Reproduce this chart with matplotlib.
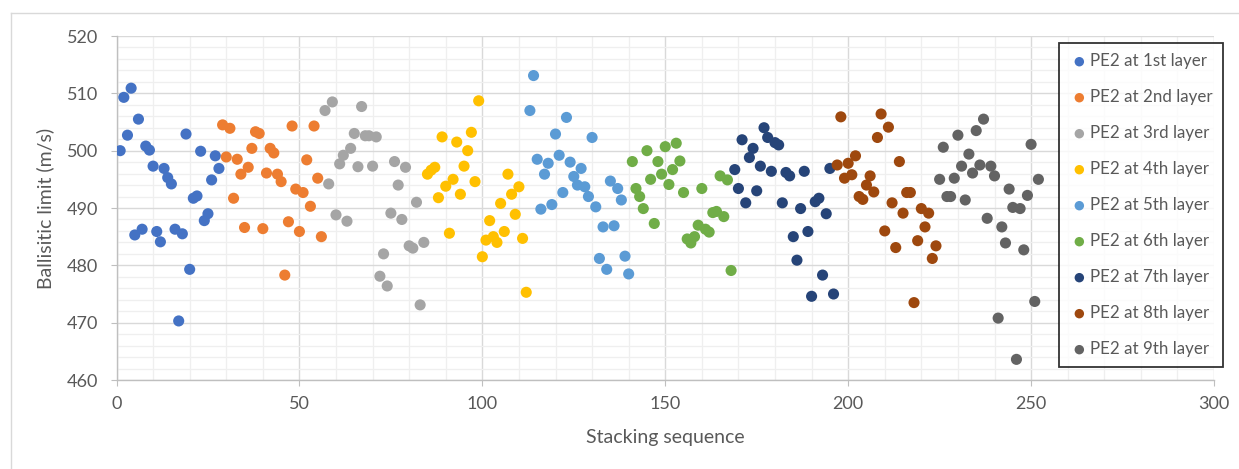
import numpy as np
import matplotlib
matplotlib.use("Agg")
import matplotlib.pyplot as plt
from matplotlib.ticker import MultipleLocator
from matplotlib.lines import Line2D

plt.rcParams['font.family'] = ['Lato', 'DejaVu Sans']

# ballistic limit (m/s), 28 shots per layer position
layer1 = [500.0, 509.3, 502.7, 510.9, 485.3, 505.5, 486.3, 500.8, 500.1, 497.3, 485.9, 484.1, 496.9, 495.3,
          494.2, 486.3, 470.3, 485.5, 502.9, 479.3, 491.7, 492.1, 499.9, 487.8, 489.0, 494.9, 499.1, 496.9]
layer2 = [504.5, 498.9, 503.9, 491.7, 498.5, 495.9, 486.6, 497.1, 500.4, 503.3, 503.0, 486.4, 496.1, 500.4,
          499.6, 495.9, 494.6, 478.3, 487.6, 504.3, 493.3, 485.9, 492.7, 498.4, 490.3, 504.3, 495.2, 485.0]
layer3 = [507.0, 494.2, 508.5, 488.8, 497.7, 499.2, 487.7, 500.4, 503.0, 497.2, 507.7, 502.6, 502.6, 497.3,
          502.4, 478.1, 482.0, 476.4, 489.1, 498.1, 494.0, 488.0, 497.1, 483.4, 483.0, 491.0, 473.1, 484.0]
layer4 = [495.9, 496.6, 497.1, 491.8, 502.4, 493.8, 485.6, 495.0, 501.5, 492.4, 497.3, 500.0, 503.2, 494.6,
          508.7, 481.5, 484.4, 487.8, 485.0, 484.0, 490.8, 485.9, 495.9, 492.4, 488.9, 493.7, 484.7, 475.3]
layer5 = [507.0, 513.1, 498.5, 489.8, 495.9, 497.8, 490.6, 502.9, 499.2, 492.7, 505.8, 498.0, 495.5, 494.0,
          496.9, 493.7, 492.0, 502.3, 490.2, 481.2, 486.7, 479.3, 494.7, 486.9, 493.4, 491.4, 481.6, 478.5]
layer6 = [498.1, 493.4, 492.0, 489.9, 500.0, 495.0, 487.3, 498.1, 495.9, 500.7, 494.1, 496.7, 501.3, 498.2,
          492.7, 484.6, 483.9, 485.0, 487.0, 493.4, 486.3, 485.8, 489.2, 489.4, 495.6, 488.5, 494.9, 479.1]
layer7 = [496.7, 493.4, 501.9, 490.9, 498.8, 500.4, 493.0, 497.3, 504.0, 502.3, 496.4, 501.4, 501.0, 490.9,
          496.2, 495.6, 485.0, 480.9, 489.9, 496.4, 485.9, 474.6, 491.1, 491.7, 478.3, 489.0, 496.9, 475.0]
layer8 = [497.5, 505.9, 495.2, 497.8, 495.8, 499.1, 492.0, 491.5, 494.0, 495.6, 492.8, 502.3, 506.4, 486.0,
          504.1, 490.9, 483.1, 498.1, 489.1, 492.7, 492.7, 473.5, 484.3, 489.9, 486.7, 489.1, 481.2, 483.4]
layer9 = [495.0, 500.6, 492.0, 492.0, 495.2, 502.7, 497.3, 491.4, 499.4, 496.1, 503.5, 497.5, 505.5, 488.2,
          497.3, 495.6, 470.8, 486.7, 483.9, 493.3, 490.1, 463.6, 489.9, 482.7, 492.2, 501.1, 473.7, 495.0]

layers = [layer1, layer2, layer3, layer4, layer5, layer6, layer7, layer8, layer9]
labels = ["PE2 at 1st layer", "PE2 at 2nd layer", "PE2 at 3rd layer", "PE2 at 4th layer",
          "PE2 at 5th layer", "PE2 at 6th layer", "PE2 at 7th layer", "PE2 at 8th layer",
          "PE2 at 9th layer"]
colors = ["#4472C4", "#ED7D31", "#A5A5A5", "#FFC000", "#5B9BD5",
          "#70AD47", "#264478", "#9E480E", "#636363"]

# stacking sequence is just the running shot number 1..252
seq = np.arange(1, 1 + sum(len(l) for l in layers))

W, H = 1239, 469
fig = plt.figure(figsize=(W / 100, H / 100), dpi=100)
ax = fig.add_axes([116.5 / W, 1 - 380 / H, (1214 - 116.5) / W, (380 - 36) / H])

# light chart-area border (only left/top edges show in the crop)
fig.add_artist(Line2D([10.5 / W, 10.5 / W], [0, 1 - 13 / H], transform=fig.transFigure,
                      color='#d9d9d9', lw=1))
fig.add_artist(Line2D([10.5 / W, 1], [1 - 13 / H, 1 - 13 / H], transform=fig.transFigure,
                      color='#d9d9d9', lw=1))

start = 0
for vals, lab, col in zip(layers, labels, colors):
    xs = seq[start:start + len(vals)]
    ax.scatter(xs, vals, s=64, color=col, edgecolors='none', label=lab, zorder=3)
    start += len(vals)

ax.set_xlim(0, 300)
ax.set_ylim(460, 520)
ax.xaxis.set_major_locator(MultipleLocator(50))
ax.xaxis.set_minor_locator(MultipleLocator(10))
ax.yaxis.set_major_locator(MultipleLocator(10))
ax.yaxis.set_minor_locator(MultipleLocator(2))
ax.set_axisbelow(True)
ax.grid(which='major', color='#d9d9d9', linewidth=1.0)
ax.grid(which='minor', color='#efefef', linewidth=0.9)

for s in ['top', 'right']:
    ax.spines[s].set_visible(False)
for s in ['left', 'bottom']:
    ax.spines[s].set_color('#bfbfbf')
    ax.spines[s].set_linewidth(1.0)

ax.tick_params(which='major', direction='out', length=4.3, color='#bfbfbf',
               labelsize=13, labelcolor='#595959')
ax.tick_params(axis='y', pad=8.8)
ax.tick_params(axis='x', pad=7.5)
ax.tick_params(which='minor', length=0)

ax.set_xlabel("Stacking sequence", fontsize=14, color='#595959')
ax.set_ylabel("Ballisitic limit (m/s)", fontsize=14, color='#595959')
ax.xaxis.set_label_coords(0.5, -0.143)
ax.yaxis.set_label_coords(-0.057, 0.5)

leg = ax.legend(loc='upper left', bbox_to_anchor=(1059 / W, 1 - 43 / H),
                bbox_transform=fig.transFigure, borderaxespad=0, fancybox=False,
                frameon=True, edgecolor='black', fontsize=12.2, labelspacing=1.18,
                handletextpad=0.05, borderpad=0.6, markerscale=0.85, scatterpoints=1,
                handlelength=1.2)
leg.get_frame().set_linewidth(1.3)
for t in leg.get_texts():
    t.set_color('#595959')

fig.savefig("out.png", dpi=100)
